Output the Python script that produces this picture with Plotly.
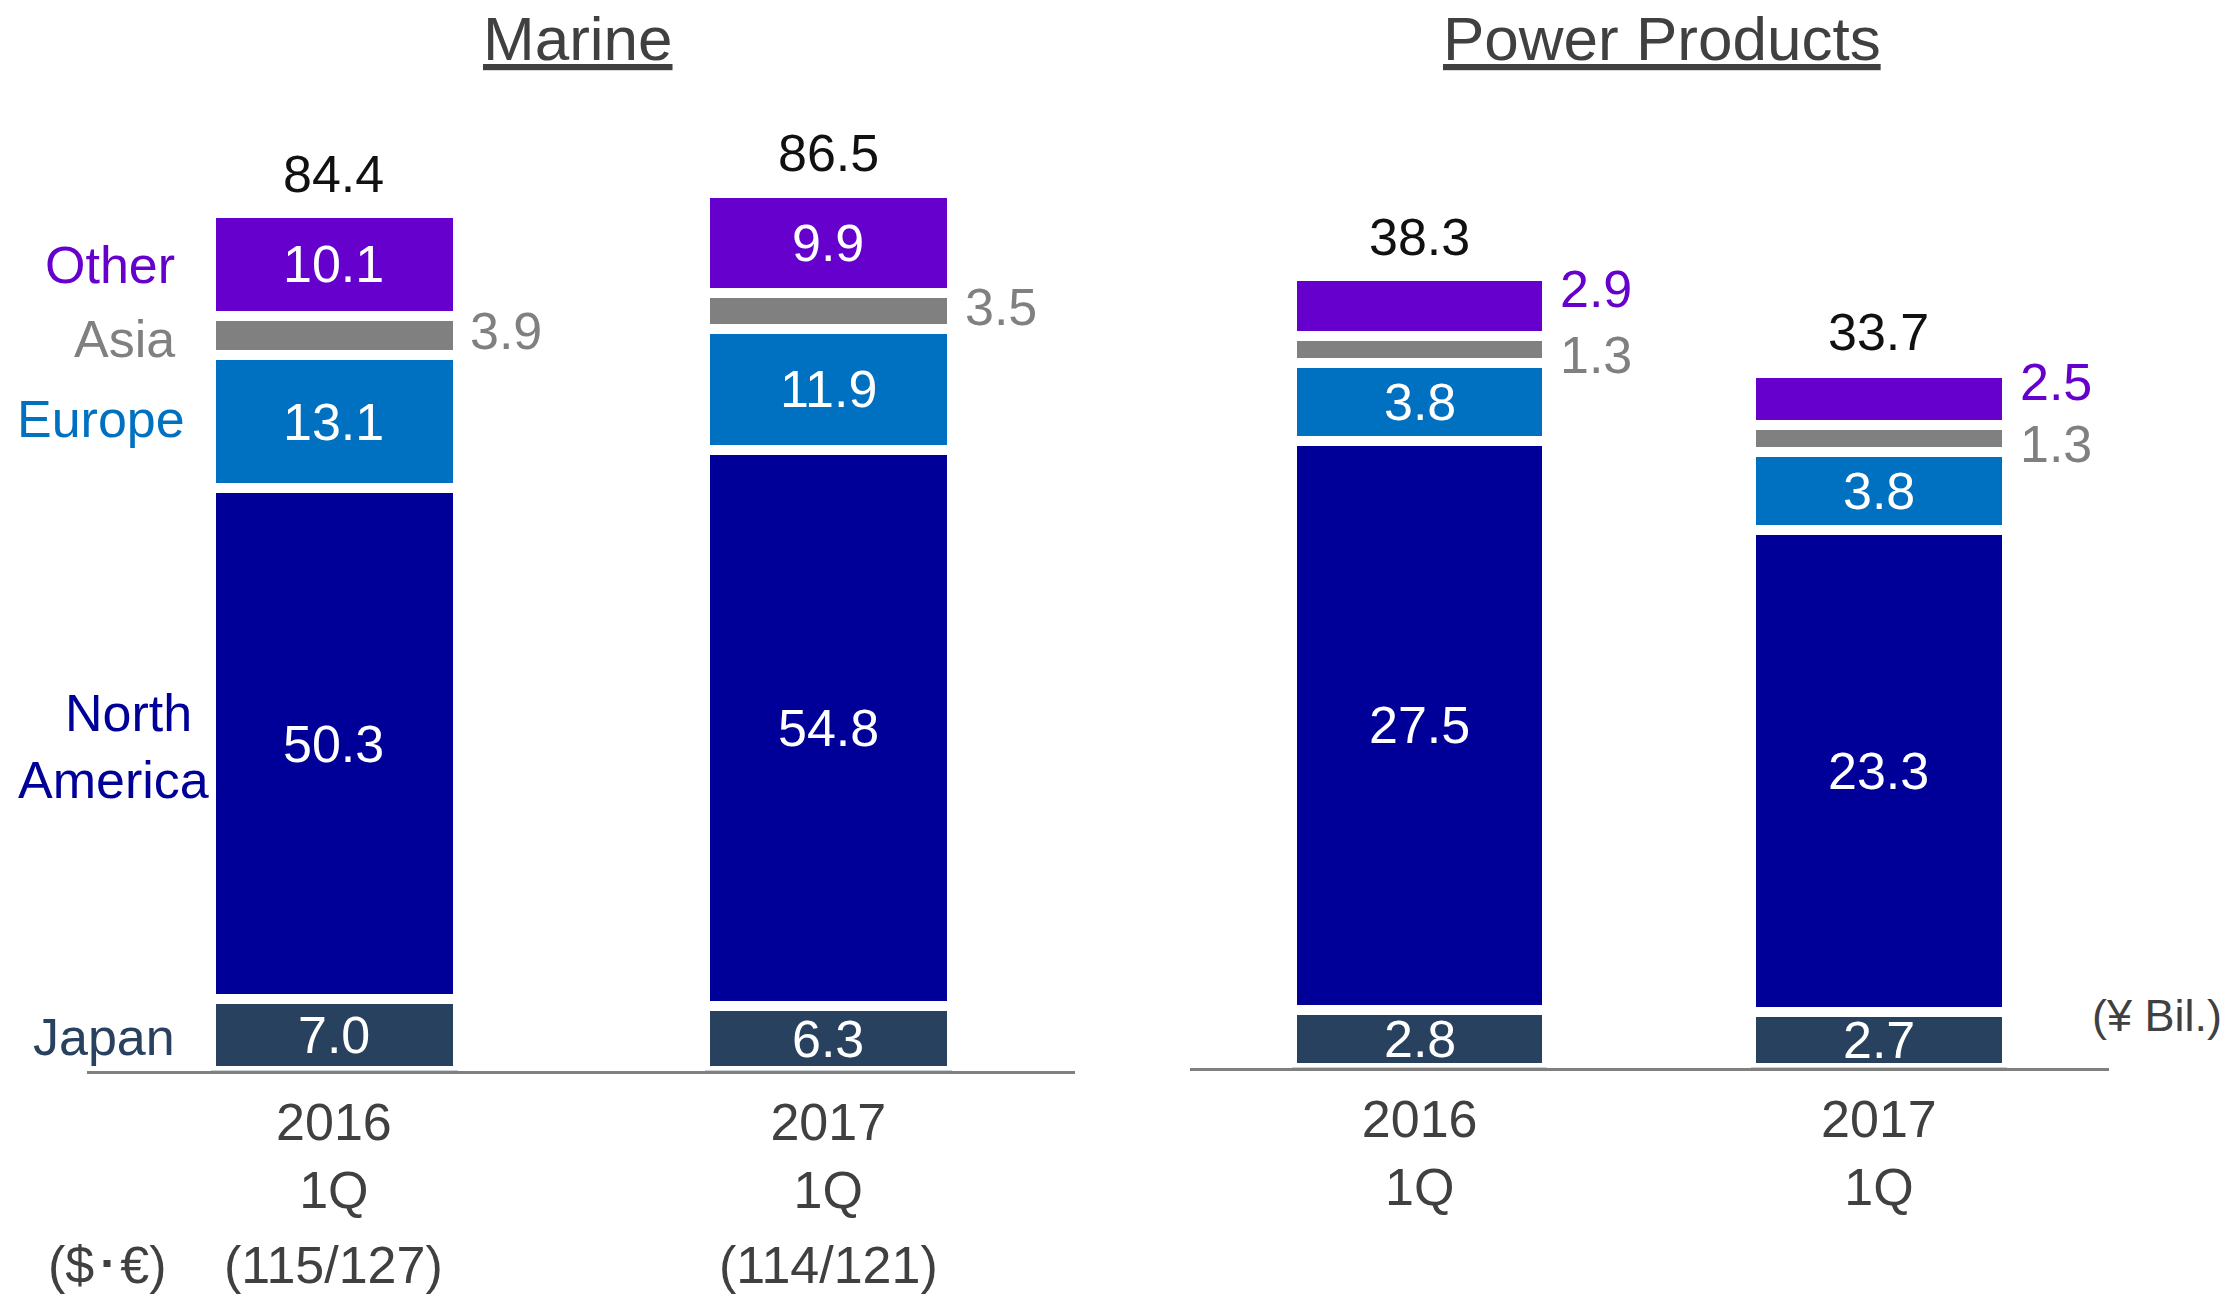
import plotly.graph_objects as go

# ---------------- data ----------------
categories = ["2016<br>1Q", "2017<br>1Q"]
regions = ["Japan", "North America", "Europe", "Asia", "Other"]

marine_japan = [7.0, 6.3]
marine_north_america = [50.3, 54.8]
marine_europe = [13.1, 11.9]
marine_asia = [3.9, 3.5]
marine_other = [10.1, 9.9]
marine_total = [84.4, 86.5]

power_japan = [2.8, 2.7]
power_north_america = [27.5, 23.3]
power_europe = [3.8, 3.8]
power_asia = [1.3, 1.3]
power_other = [2.9, 2.5]
power_total = [38.3, 33.7]

fx_rates = ["(115/127)", "(114/121)"]
fx_label = "($･€)"
unit_label = "(¥ Bil.)"
panel_titles = ["Marine", "Power Products"]

# ---------------- style ----------------
W, H = 2230, 1300
FONT = "Liberation Sans, Arial, Helvetica, sans-serif"
colors = {
    "Japan": "#27415F",
    "North America": "#000099",
    "Europe": "#0070C0",
    "Asia": "#808080",
    "Other": "#6600CC",
}
TXT = "#404040"
FS = 52

marine_series = [marine_japan, marine_north_america, marine_europe, marine_asia, marine_other]
power_series = [power_japan, power_north_america, power_europe, power_asia, power_other]


def px_x(p):
    return p / W


def px_y(p):
    return 1 - p / H


fig = go.Figure()

for name, mv, pv in zip(regions, marine_series, power_series):
    fig.add_trace(go.Bar(
        x=categories, y=mv, name=name, xaxis="x", yaxis="y", width=0.5,
        marker=dict(color=colors[name], line=dict(color="white", width=10)),
        showlegend=False, hoverinfo="skip"))
    fig.add_trace(go.Bar(
        x=categories, y=pv, name=name, xaxis="x2", yaxis="y2", width=0.556,
        marker=dict(color=colors[name], line=dict(color="white", width=10)),
        showlegend=False, hoverinfo="skip"))

annotations = []


def seg_labels(series, totals, xref, yref, outside, half_px, yshifts):
    for i, cat in enumerate(categories):
        base = 0.0
        for name, vals in zip(regions, series):
            v = vals[i]
            mid = base + v / 2
            if name in outside:
                annotations.append(dict(
                    x=cat, y=mid, xref=xref, yref=yref, text=f"{v:.1f}",
                    showarrow=False, xanchor="left", yanchor="middle",
                    xshift=half_px + 11, yshift=yshifts.get(name, 0),
                    font=dict(family=FONT, size=FS, color=colors[name])))
            else:
                annotations.append(dict(
                    x=cat, y=mid, xref=xref, yref=yref, text=f"{v:.1f}",
                    showarrow=False, xanchor="center", yanchor="middle",
                    font=dict(family=FONT, size=FS, color="white")))
            base += v
        annotations.append(dict(
            x=cat, y=totals[i], xref=xref, yref=yref, text=f"{totals[i]:.1f}",
            showarrow=False, xanchor="center", yanchor="bottom", yshift=8,
            font=dict(family=FONT, size=FS, color="#111111")))


seg_labels(marine_series, marine_total, "x", "y", ["Asia"], 0.5 * 494 / 2, {"Asia": 4})
seg_labels(power_series, power_total, "x2", "y2", ["Asia", "Other"], 0.556 * 459.3 / 2,
           {"Asia": -6, "Other": 17})

# region legend labels on the left
left_labels = [
    ("Other", 177, 264.7, colors["Other"]),
    ("Asia", 177, 338.7, colors["Asia"]),
    ("Europe", 187, 418.7, colors["Europe"]),
    ("North", 194, 713, colors["North America"]),
    ("America", 211, 780, colors["North America"]),
    ("Japan", 177, 1037, colors["Japan"]),
]
for t, x, y, c in left_labels:
    annotations.append(dict(
        x=px_x(x), y=px_y(y), xref="paper", yref="paper", text=t, showarrow=False,
        xanchor="right", yanchor="middle", font=dict(family=FONT, size=FS, color=c)))

# panel titles
for t, x in zip(panel_titles, [577.6, 1662]):
    annotations.append(dict(
        x=px_x(x), y=px_y(38.5), xref="paper", yref="paper", text=f"<u>{t}</u>",
        showarrow=False, xanchor="center", yanchor="middle",
        font=dict(family=FONT, size=62, color=TXT)))

# exchange rates row
FX_Y = 1265
annotations.append(dict(
    x=px_x(107), y=px_y(FX_Y), xref="paper", yref="paper", text=fx_label,
    showarrow=False, xanchor="center", yanchor="middle",
    font=dict(family=FONT, size=FS, color=TXT)))
for cat, r in zip(categories, fx_rates):
    annotations.append(dict(
        x=cat, y=px_y(FX_Y), xref="x", yref="paper", text=r,
        showarrow=False, xanchor="center", yanchor="middle",
        font=dict(family=FONT, size=FS, color=TXT)))

# unit label
annotations.append(dict(
    x=px_x(2157), y=px_y(1015.5), xref="paper", yref="paper", text=unit_label,
    showarrow=False, xanchor="center", yanchor="middle",
    font=dict(family=FONT, size=45, color=TXT)))

m_zero, m_scale = 1070.5, 10.16
p_zero, p_scale = 1067.5, 20.67

axis_common = dict(
    type="category", range=[-0.5, 1.5], showgrid=False, zeroline=False,
    showline=True, linecolor="#808080", linewidth=3, ticks="",
    tickfont=dict(family=FONT, size=FS, color=TXT), ticklabelstandoff=4,
    fixedrange=True)

fig.update_layout(
    width=W, height=H, margin=dict(l=0, r=0, t=0, b=0),
    paper_bgcolor="white", plot_bgcolor="white",
    barmode="stack", bargap=0,
    xaxis=dict(domain=[86.7 / W, 1075.4 / W], anchor="y", **axis_common),
    xaxis2=dict(domain=[1190 / W, 2108.6 / W], anchor="y2", **axis_common),
    yaxis=dict(domain=[(H - m_zero) / H, 1], range=[0, m_zero / m_scale], visible=False,
               anchor="x", fixedrange=True),
    yaxis2=dict(domain=[(H - p_zero) / H, 1], range=[0, p_zero / p_scale], visible=False,
                anchor="x2", fixedrange=True),
    annotations=annotations,
    showlegend=False,
)

fig.write_html("out.html", config={"displayModeBar": False})
